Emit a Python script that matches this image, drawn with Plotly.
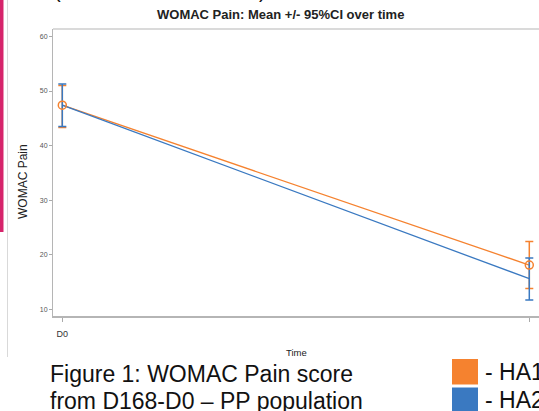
import plotly.graph_objects as go

# ---- data ----
timepoints = ["D0", "D168"]
ha1_mean = [47.4, 18.1]
ha1_upper = [51.0, 22.4]
ha1_lower = [43.3, 13.8]
ha2_mean = [47.4, 15.6]
ha2_upper = [51.3, 19.4]
ha2_lower = [43.5, 11.7]
y_ticks = [10, 20, 30, 40, 50, 60]

ORANGE = "#f5822f"
BLUE = "#3a79c1"

W, H = 539, 411
ML, MR, MT, MB = 53, 0, 29, 95
PW = W - ML - MR
PH = H - MT - MB


def px(x):
    return (x - ML) / PW


def py(y):
    return (H - MB - y) / PH


xs = list(range(len(timepoints)))

fig = go.Figure()


def err(mean, up, lo):
    return dict(
        type="data", symmetric=False,
        array=[u - m for u, m in zip(up, mean)],
        arrayminus=[m - l for m, l in zip(mean, lo)],
        thickness=1.5, width=4,
    )


e1 = err(ha1_mean, ha1_upper, ha1_lower)
e1["color"] = ORANGE
fig.add_trace(go.Scatter(x=xs, y=ha1_mean, mode="lines", name="HA1",
                         line=dict(color=ORANGE, width=1.3), error_y=e1))
e2 = err(ha2_mean, ha2_upper, ha2_lower)
e2["color"] = BLUE
fig.add_trace(go.Scatter(x=xs, y=ha2_mean, mode="lines", name="HA2",
                         line=dict(color=BLUE, width=1.3), error_y=e2))
fig.add_trace(go.Scatter(x=xs, y=ha1_mean, mode="markers", name="HA1 mean",
                         marker=dict(symbol="circle-open", size=8,
                                     color=ORANGE, line=dict(width=1.5))))

x0 = -(62.3 - ML) / 467.0
x1 = x0 + PW / 467.0

fig.update_layout(
    width=W, height=H,
    margin=dict(l=ML, r=MR, t=MT, b=MB, pad=0),
    paper_bgcolor="white", plot_bgcolor="white",
    showlegend=False,
    font=dict(family="Liberation Sans, Arial, sans-serif", color="#333"),
    xaxis=dict(range=[x0, x1], tickmode="array", tickvals=xs,
               ticktext=timepoints, showgrid=False, zeroline=False,
               showline=True, linecolor="#b5b5b5", linewidth=2,
               ticks="outside", ticklen=4, tickcolor="#aaaaaa",
               tickfont=dict(size=9, color="#333"), ticklabelstandoff=4),
    yaxis=dict(range=[8.77, 61.36], tickvals=y_ticks, showgrid=False,
               zeroline=False, showline=True, linecolor="#b5b5b5",
               linewidth=1, ticks="outside", ticklen=3, tickcolor="#aaaaaa",
               tickfont=dict(size=7, color="#555")),
)

shapes = [
    # top frame line
    dict(type="line", xref="paper", yref="paper", x0=0, x1=1, y0=1, y1=1,
         line=dict(color="#b5b5b5", width=1)),
    # pink bar on the left
    dict(type="rect", xref="paper", yref="paper", x0=px(0), x1=px(3.5),
         y0=py(232), y1=py(-5), fillcolor="#d6246b", line=dict(width=0)),
    # gray vertical divider
    dict(type="line", xref="paper", yref="paper", x0=px(7.5), x1=px(7.5),
         y0=py(357), y1=py(-5), line=dict(color="#d9d9d9", width=1)),
    # legend squares
    dict(type="rect", xref="paper", yref="paper", x0=px(452), x1=px(478),
         y0=py(384.5), y1=py(359), fillcolor=ORANGE, line=dict(width=0)),
    dict(type="rect", xref="paper", yref="paper", x0=px(452), x1=px(478),
         y0=py(412), y1=py(387.5), fillcolor=BLUE, line=dict(width=0)),
]
fig.update_layout(shapes=shapes)

ann = [
    dict(text="<b>WOMAC Pain: Mean +/- 95%CI over time</b>", x=px(280), y=py(15),
         font=dict(size=13, color="#222"), xanchor="center", yanchor="middle"),
    dict(text="WOMAC Pain", x=px(23), y=py(182), textangle=-90,
         font=dict(size=12, color="#222"), xanchor="center", yanchor="middle"),
    dict(text="Time", x=px(296), y=py(352), font=dict(size=9.5, color="#222"),
         xanchor="center", yanchor="middle"),
    dict(text="Figure 1: WOMAC Pain score", x=px(48), y=py(374),
         font=dict(size=23, color="#111"), xanchor="left", yanchor="middle"),
    dict(text="from D168-D0 \u2013 PP population", x=px(48), y=py(401),
         font=dict(size=23, color="#111"), xanchor="left", yanchor="middle"),
    dict(text="- HA1", x=px(483), y=py(372), font=dict(size=23, color="#111"),
         xanchor="left", yanchor="middle"),
    dict(text="- HA2", x=px(483), y=py(400), font=dict(size=23, color="#111"),
         xanchor="left", yanchor="middle"),
    dict(text="(", x=px(57), y=py(-9), font=dict(size=20, color="#111"),
         xanchor="center", yanchor="middle"),
    dict(text=")", x=px(262), y=py(-9), font=dict(size=20, color="#111"),
         xanchor="center", yanchor="middle"),
]
for a in ann:
    a.update(xref="paper", yref="paper", showarrow=False)
fig.update_layout(annotations=ann)

fig.write_html("out.html",
               config={"displayModeBar": False},
               post_script="document.body.style.margin='0px';"
                           "document.body.style.overflow='hidden';")
